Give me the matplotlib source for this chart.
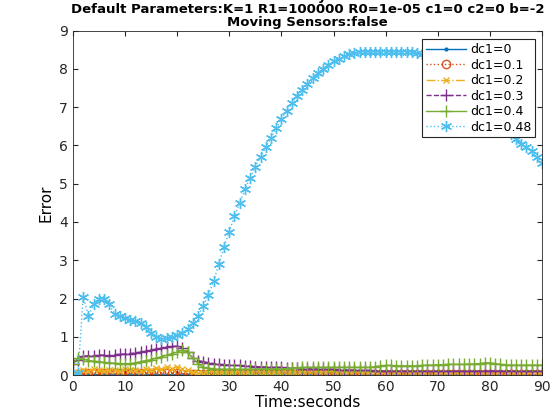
import numpy as np
import matplotlib
matplotlib.use('Agg')
import matplotlib.pyplot as plt

t = np.arange(0, 91)

# dc1=0.48 (light blue)
err_048 = [0, 0.05, 2.05, 1.55, 1.85, 2.0, 2.0, 1.85, 1.6, 1.55, 1.5, 1.45, 1.4, 1.35, 1.25, 1.1,
           1.0, 0.95, 0.98, 1.0, 1.05, 1.1, 1.2, 1.35, 1.55, 1.8, 2.1, 2.45, 2.9, 3.35, 3.75,
           4.15, 4.5, 4.85, 5.15, 5.45, 5.7, 5.95, 6.2, 6.45, 6.7, 6.9, 7.1, 7.3, 7.45, 7.6,
           7.75, 7.9, 8.0, 8.1, 8.2, 8.27, 8.33, 8.38, 8.42, 8.45, 8.45, 8.45, 8.45, 8.45, 8.45,
           8.45, 8.45, 8.45, 8.45, 8.44, 8.42, 8.4, 8.36, 8.3, 8.22, 8.12, 8.0, 7.88, 7.75, 7.6,
           7.45, 7.3, 7.15, 7.0, 6.85, 6.7, 6.55, 6.42, 6.3, 6.18, 6.05, 5.95, 5.85, 5.7, 5.55]
# dc1=0.3 (purple)
err_03 = [0.3, 0.4, 0.5, 0.5, 0.5, 0.52, 0.52, 0.5, 0.52, 0.55, 0.55, 0.56, 0.58, 0.6, 0.62,
          0.65, 0.68, 0.7, 0.73, 0.75, 0.75, 0.72, 0.6, 0.45, 0.38, 0.35, 0.32, 0.3, 0.28, 0.27,
          0.26, 0.25, 0.25, 0.24, 0.23, 0.22, 0.22, 0.21, 0.2, 0.2, 0.2, 0.19, 0.18, 0.18, 0.17,
          0.17, 0.16, 0.16, 0.15, 0.15, 0.15, 0.14, 0.14, 0.13, 0.13, 0.12, 0.12, 0.12, 0.11,
          0.11, 0.1, 0.1, 0.1, 0.1, 0.1, 0.1, 0.1, 0.1, 0.1, 0.1, 0.1, 0.1, 0.1, 0.1, 0.1,
          0.1, 0.1, 0.1, 0.1, 0.1, 0.11, 0.11, 0.11, 0.11, 0.11, 0.1, 0.1, 0.1, 0.1, 0.1, 0.1]
# dc1=0.4 (green)
err_04 = [0.3, 0.45, 0.42, 0.38, 0.36, 0.35, 0.33, 0.32, 0.31, 0.3, 0.3, 0.3, 0.32, 0.35, 0.38,
          0.4, 0.44, 0.48, 0.52, 0.56, 0.6, 0.65, 0.6, 0.45, 0.3, 0.2, 0.18, 0.16, 0.15, 0.15,
          0.15, 0.15, 0.15, 0.15, 0.15, 0.15, 0.16, 0.16, 0.16, 0.16, 0.16, 0.17, 0.18, 0.19,
          0.2, 0.2, 0.2, 0.2, 0.2, 0.2, 0.2, 0.2, 0.2, 0.2, 0.2, 0.2, 0.2, 0.2, 0.22, 0.24,
          0.25, 0.25, 0.24, 0.24, 0.24, 0.24, 0.24, 0.25, 0.26, 0.26, 0.27, 0.27, 0.28, 0.28,
          0.28, 0.28, 0.29, 0.29, 0.3, 0.32, 0.32, 0.3, 0.28, 0.27, 0.26, 0.26, 0.26, 0.26,
          0.26, 0.26, 0.26]
# dc1=0.2 (orange x)
err_02 = [0.02, 0.08, 0.12, 0.1, 0.15, 0.12, 0.1, 0.14, 0.12, 0.1, 0.15, 0.12, 0.14, 0.1, 0.16,
          0.12, 0.18, 0.15, 0.2, 0.17, 0.22, 0.15, 0.12, 0.08, 0.06, 0.06, 0.05, 0.06, 0.05,
          0.05, 0.05, 0.06, 0.05, 0.05, 0.06, 0.05, 0.05, 0.05, 0.05, 0.06, 0.05, 0.05, 0.05,
          0.05, 0.05, 0.05, 0.05, 0.05, 0.05, 0.05, 0.05, 0.05, 0.05, 0.05, 0.05, 0.05, 0.05,
          0.05, 0.05, 0.05, 0.05, 0.05, 0.05, 0.05, 0.05, 0.05, 0.05, 0.05, 0.05, 0.05, 0.05,
          0.05, 0.05, 0.05, 0.05, 0.05, 0.05, 0.05, 0.05, 0.05, 0.05, 0.05, 0.05, 0.05, 0.05,
          0.05, 0.05, 0.05, 0.05, 0.05, 0.05]
# dc1=0.1 (orange o)
err_01 = [0.0, 0.04, 0.05, 0.06, 0.05, 0.06, 0.05, 0.05, 0.06, 0.05, 0.05, 0.05, 0.05, 0.06,
          0.05, 0.05, 0.05, 0.06, 0.05, 0.05, 0.05, 0.04, 0.04, 0.03, 0.03, 0.03, 0.03, 0.03,
          0.03, 0.03, 0.03, 0.03, 0.03, 0.03, 0.03, 0.03, 0.03, 0.03, 0.03, 0.03, 0.03, 0.03,
          0.03, 0.03, 0.03, 0.03, 0.03, 0.03, 0.03, 0.03, 0.03, 0.03, 0.03, 0.03, 0.03, 0.03,
          0.03, 0.03, 0.03, 0.03, 0.03, 0.03, 0.03, 0.03, 0.03, 0.03, 0.03, 0.03, 0.03, 0.03,
          0.03, 0.03, 0.03, 0.03, 0.03, 0.03, 0.03, 0.03, 0.03, 0.03, 0.03, 0.03, 0.03, 0.03,
          0.03, 0.03, 0.03, 0.03, 0.03, 0.03, 0.03]
# dc1=0 (blue)
err_0 = [0.0] + [0.01] * 90

fig = plt.figure(figsize=(5.6, 4.2), dpi=100)
ax = fig.add_axes([0.13, 0.107, 0.838, 0.82])

ax.plot(t, err_0, '-', marker='.', color='#0072BD', lw=1, ms=4, label='dc1=0')
ax.plot(t, err_01, ':', marker='o', color='#D95319', lw=1, ms=6, mfc='none', label='dc1=0.1')
ax.plot(t, err_02, '-.', marker='x', color='#EDB120', lw=1, ms=5, label='dc1=0.2')
ax.plot(t, err_03, '--', marker='+', color='#7E2F8E', lw=1, ms=8, label='dc1=0.3')
ax.plot(t, err_04, '-', marker='+', color='#77AC30', lw=1, ms=8, label='dc1=0.4')
ax.plot(t, err_048, ':', marker=(6, 2, 0), color='#4DBEEE', lw=1, ms=8, label='dc1=0.48')

ax.set_xlim(0, 90)
ax.set_ylim(0, 9)
ax.set_xticks(range(0, 91, 10))
ax.set_yticks(range(0, 10))
ax.tick_params(direction='in', top=True, right=True, labelsize=10, colors='#262626')
for s in ax.spines.values():
    s.set_color('#262626')
    s.set_linewidth(0.6)
ax.set_xlabel('Time:seconds', fontsize=11, labelpad=1)
ax.set_ylabel('Error', fontsize=11)
ax.set_title('Sensitivity to c1\nDefault Parameters:K=1 R1=100000 R0=1e-05 c1=0 c2=0 b=-2\nMoving Sensors:false',
             fontsize=9.5, fontweight='bold', linespacing=1.0, pad=3)
leg = ax.legend(loc='upper right', bbox_to_anchor=(0.985, 0.975), fontsize=9, fancybox=False,
                edgecolor='#262626', framealpha=1, handlelength=3.2, borderpad=0.3,
                labelspacing=0.2, handletextpad=0.3, borderaxespad=0)
leg.get_frame().set_linewidth(0.8)

fig.savefig('out.png', dpi=100)
